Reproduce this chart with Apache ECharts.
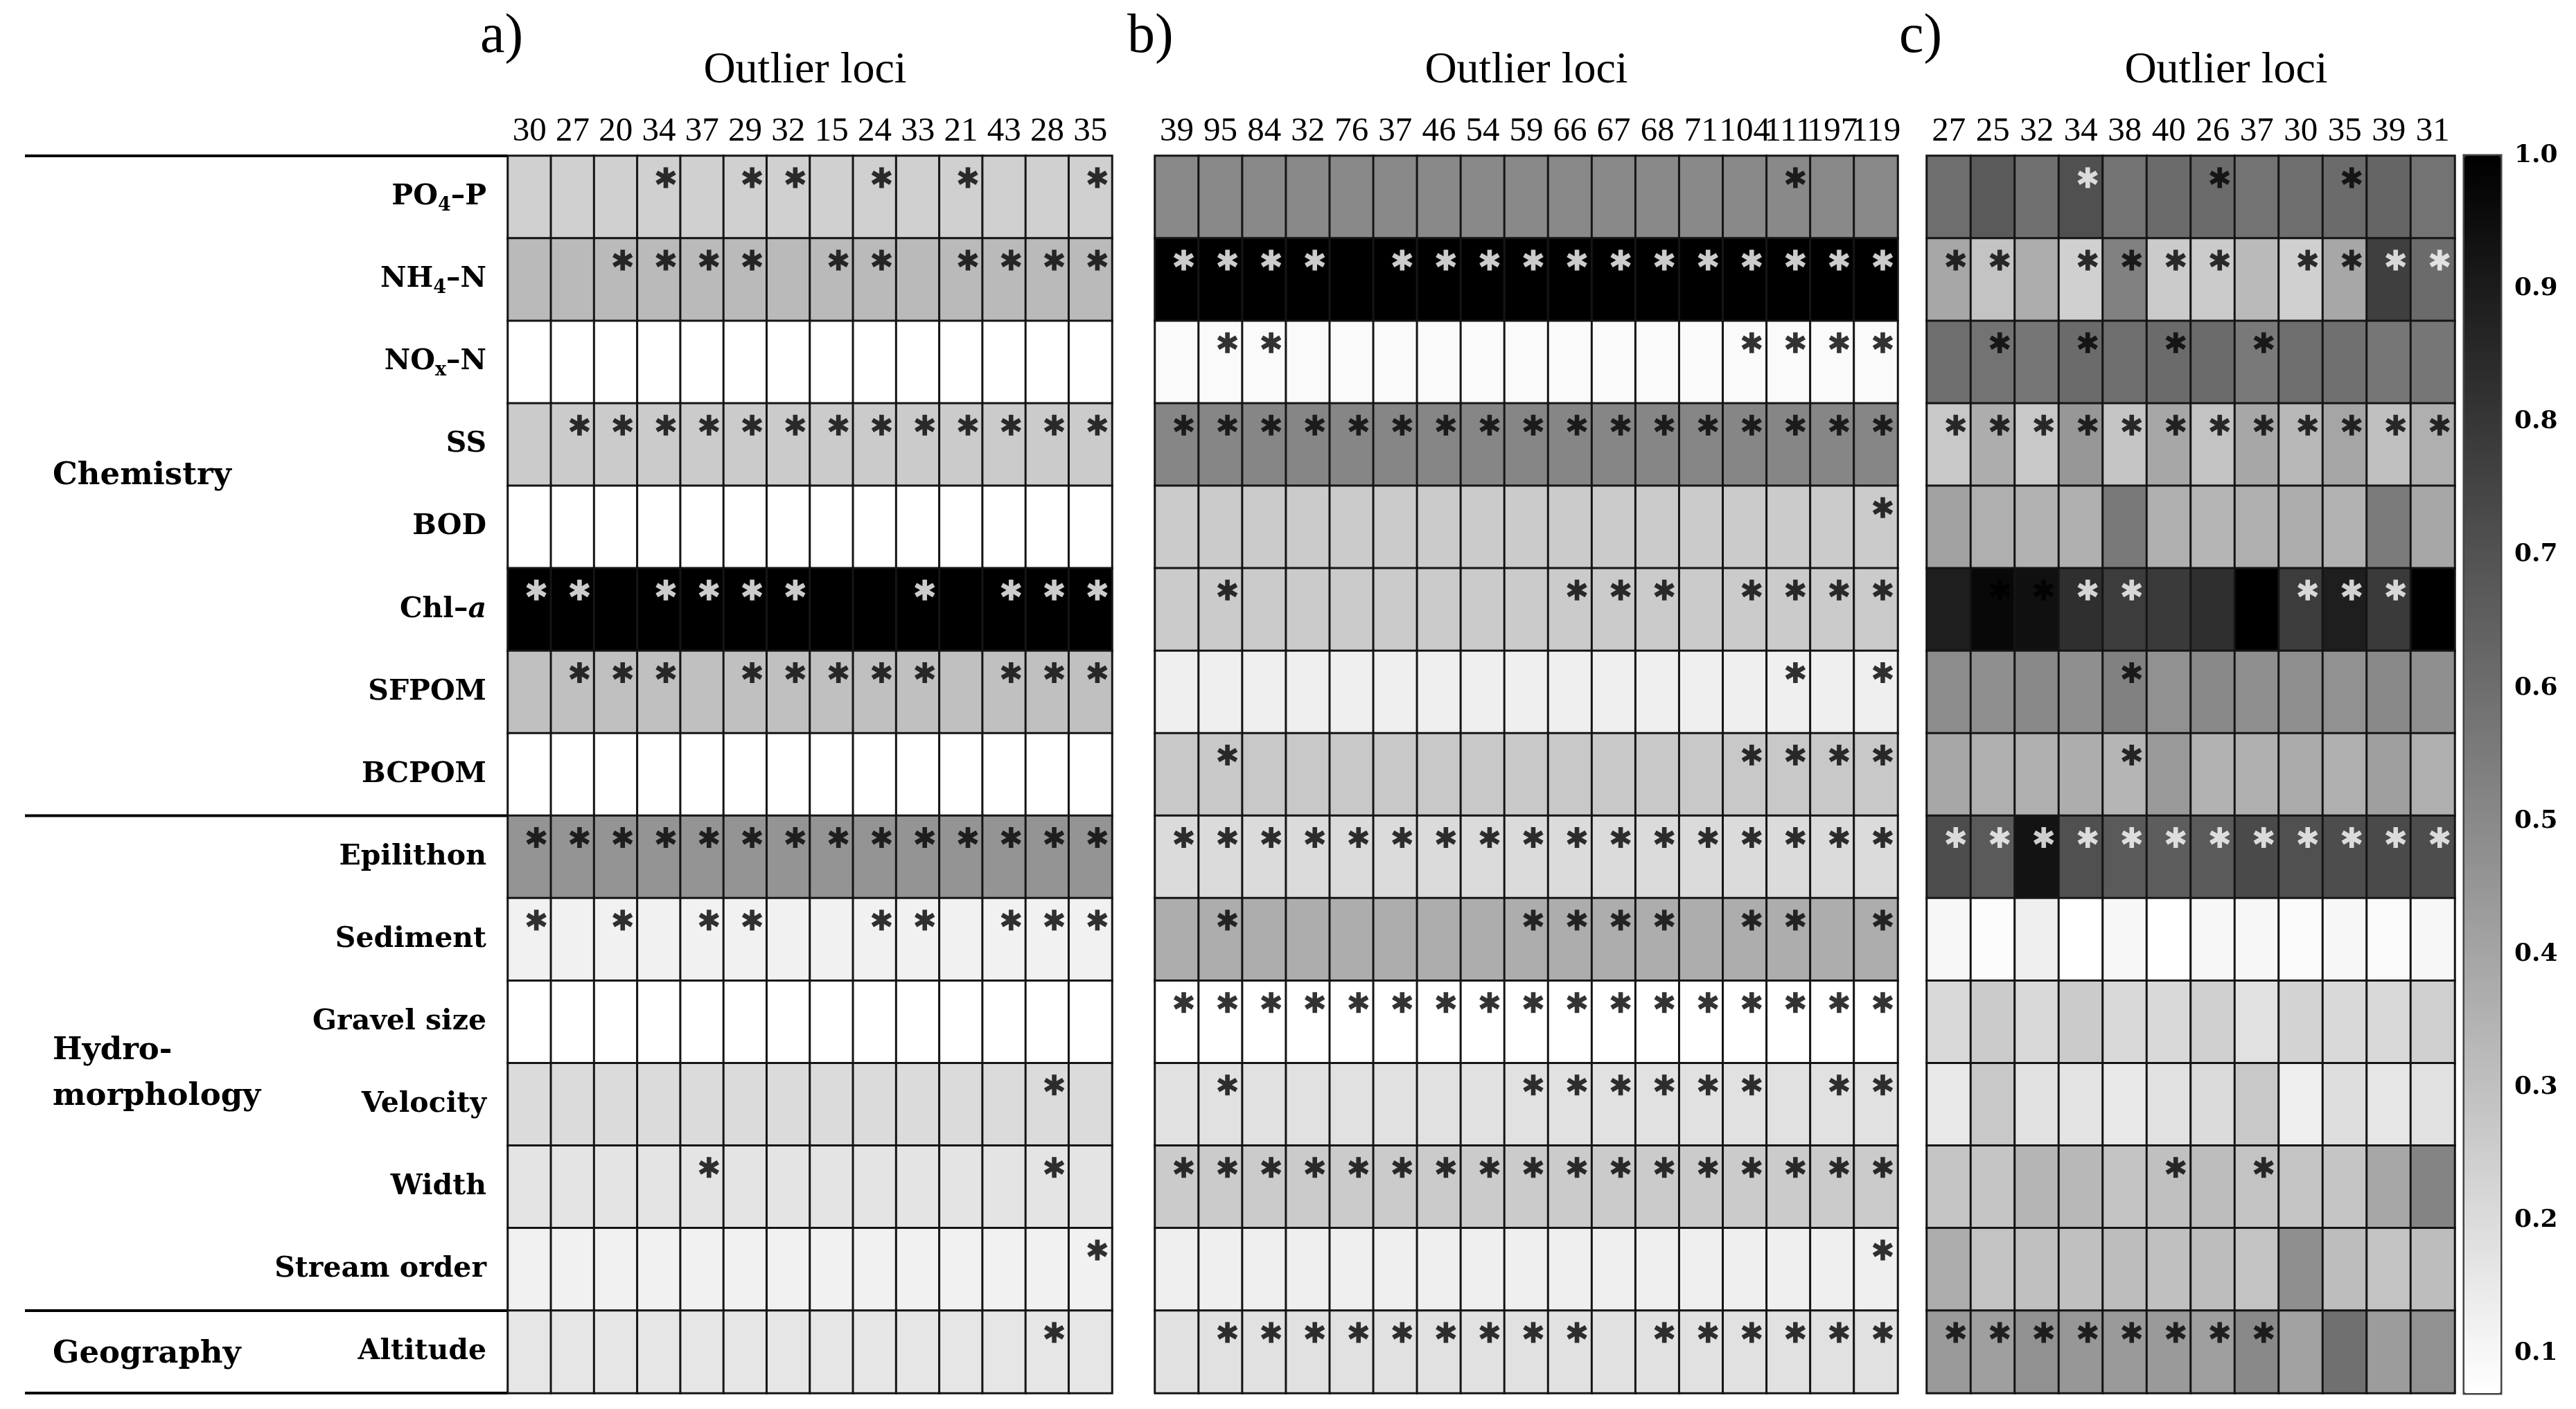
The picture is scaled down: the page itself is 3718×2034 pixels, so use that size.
<!DOCTYPE html>
<html>
<head>
<meta charset="utf-8">
<script src="https://cdn.jsdelivr.net/npm/echarts@6/dist/echarts.min.js"></script>
<style>
  html, body { margin: 0; padding: 0; background: #fff; }
  #chart { width: 3718px; height: 2034px; }
</style>
</head>
<body>
<div id="chart"></div>
<script>
// rows (environmental variables), top to bottom
const rowNames = ['PO4–P', 'NH4–N', 'NOx–N', 'SS', 'BOD', 'Chl–a', 'SFPOM', 'BCPOM',
  'Epilithon', 'Sediment', 'Gravel size', 'Velocity', 'Width', 'Stream order', 'Altitude']
const groups = [
  { name: 'Chemistry', from: 0, to: 7 },
  { name: 'Hydro-\nmorphology', from: 8, to: 13 },
  { name: 'Geography', from: 14, to: 14 }
]

// outlier loci (columns) of the three panels
const lociA = ['30', '27', '20', '34', '37', '29', '32', '15', '24', '33', '21', '43', '28', '35']
const lociB = ['39', '95', '84', '32', '76', '37', '46', '54', '59', '66', '67', '68', '71', '104', '111', '197', '119']
const lociC = ['27', '25', '32', '34', '38', '40', '26', '37', '30', '35', '39', '31']

// panels a) and b): every locus has the same value in a row
const valuesA = [0.24, 0.32, 0.07, 0.26, 0.07, 1.00, 0.30, 0.07, 0.46, 0.12, 0.07, 0.20, 0.17, 0.12, 0.16]
const valuesB = [0.50, 1.00, 0.09, 0.51, 0.26, 0.26, 0.13, 0.27, 0.20, 0.37, 0.07, 0.18, 0.26, 0.13, 0.18]

// panel c): one value per cell
const valuesC = [
  [0.60, 0.67, 0.59, 0.71, 0.58, 0.61, 0.61, 0.58, 0.60, 0.61, 0.63, 0.58],
  [0.39, 0.29, 0.37, 0.24, 0.53, 0.26, 0.26, 0.32, 0.24, 0.39, 0.77, 0.61],
  [0.60, 0.58, 0.57, 0.61, 0.60, 0.61, 0.61, 0.56, 0.60, 0.59, 0.57, 0.57],
  [0.27, 0.37, 0.27, 0.45, 0.28, 0.39, 0.29, 0.39, 0.33, 0.40, 0.30, 0.36],
  [0.41, 0.36, 0.35, 0.36, 0.56, 0.36, 0.34, 0.36, 0.37, 0.35, 0.55, 0.39],
  [0.89, 0.97, 0.94, 0.83, 0.78, 0.79, 0.83, 1.00, 0.78, 0.89, 0.79, 1.00],
  [0.49, 0.48, 0.50, 0.48, 0.53, 0.47, 0.50, 0.48, 0.48, 0.47, 0.50, 0.48],
  [0.39, 0.36, 0.36, 0.37, 0.34, 0.44, 0.35, 0.36, 0.38, 0.36, 0.42, 0.36],
  [0.72, 0.67, 0.93, 0.71, 0.67, 0.66, 0.67, 0.73, 0.71, 0.72, 0.73, 0.72],
  [0.10, 0.08, 0.13, 0.07, 0.10, 0.07, 0.10, 0.10, 0.09, 0.10, 0.09, 0.10],
  [0.21, 0.26, 0.21, 0.26, 0.21, 0.21, 0.24, 0.18, 0.23, 0.21, 0.21, 0.24],
  [0.15, 0.27, 0.18, 0.17, 0.15, 0.18, 0.20, 0.27, 0.13, 0.19, 0.16, 0.18],
  [0.28, 0.28, 0.34, 0.33, 0.29, 0.30, 0.31, 0.29, 0.28, 0.28, 0.39, 0.52],
  [0.37, 0.29, 0.30, 0.30, 0.31, 0.30, 0.31, 0.29, 0.48, 0.31, 0.29, 0.31],
  [0.44, 0.42, 0.47, 0.45, 0.44, 0.44, 0.42, 0.50, 0.41, 0.59, 0.43, 0.47]
]

// significance asterisks: k = black, w = white, . = none
const starsA = [
  '...k.kk.k.k..k', '..kkkk.kk.kkkk', '..............', '.kkkkkkkkkkkkk', '..............',
  'ww.wwww..w.www', '.kkk.kkkkk.kkk', '..............', 'kkkkkkkkkkkkkk', 'k.k.kk..kk.kkk',
  '..............', '............k.', '....k.......k.', '.............k', '............k.'
]
const starsB = [
  '..............k..', 'wwww.wwwwwwwwwwww', '.kk..........kkkk', 'kkkkkkkkkkkkkkkkk', '................k',
  '.k.......kkk.kkkk', '..............k.k', '.k...........kkkk', 'kkkkkkkkkkkkkkkkk', '.k......kkkk.kk.k',
  'kkkkkkkkkkkkkkkkk', '.k......kkkkkk.kk', 'kkkkkkkkkkkkkkkkk', '................k', '.kkkkkkkkk.kkkkkk'
]
const starsC = [
  '...w..k..k..', 'kk.kkkk.kkww', '.k.k.k.k....', 'kkkkkkkkkkkk', '............',
  '.kkww..kwwwk', '....k.......', '....k.......', 'wwwwwwwwwwww', '............',
  '............', '............', '.....k.k....', '............', 'kkkkkkkk....'
]

const scaleMin = 0.07
const scaleMax = 1.0
const colorbarTicks = [0.1, 0.2, 0.3, 0.4, 0.5, 0.6, 0.7, 0.8, 0.9, 1.0]

// ---------------------------------------------------------------
const SERIF = '"Liberation Serif", "Times New Roman", Tinos, serif'
const LABEL_FONT = '"DejaVu Serif"'
const ASTERISK = 'path://M-22 100 L22 100 L22 -100 L-22 -100 Z M76 69 L98 31 L-76 -69 L-98 -31 Z M-98 31 L-76 69 L98 -31 L76 -69 Z'

const gridTop = 225
const gridHeight = 1786
const rowH = gridHeight / rowNames.length

const heatData = (valueAt, ncol) => {
  const out = []
  rowNames.forEach((_, r) => {
    for (let c = 0; c < ncol; c++) out.push([c, r, valueAt(r, c)])
  })
  return out
}

const starData = (marks) => {
  const out = []
  marks.forEach((row, r) => {
    row.split('').forEach((m, c) => {
      if (m !== '.') out.push({ value: [c, r], itemStyle: { color: m === 'w' ? '#ffffff' : '#000000' } })
    })
  })
  return out
}

const panels = [
  { tag: 'a)', loci: lociA, left: 733, width: 872, titleX: 1162, data: heatData((r) => valuesA[r], lociA.length), stars: starData(starsA) },
  { tag: 'b)', loci: lociB, left: 1667, width: 1072, titleX: 2203, data: heatData((r) => valuesB[r], lociB.length), stars: starData(starsB) },
  { tag: 'c)', loci: lociC, left: 2781, width: 762, titleX: 3213, data: heatData((r, c) => valuesC[r][c], lociC.length), stars: starData(starsC) }
]
const bar = { left: 3557, width: 52 }

// row labels with sub-/italic parts
const richLabel = {
  'PO4–P': 'PO{sub|4}–P',
  'NH4–N': 'NH{sub|4}–N',
  'NOx–N': 'NO{sub|x}–N',
  'Chl–a': 'Chl–{it|a}'
}

const grids = panels.map(p => ({ left: p.left, top: gridTop, width: p.width, height: gridHeight }))
grids.push({
  left: bar.left, top: gridTop, width: bar.width, height: gridHeight,
  show: true, borderColor: '#444', borderWidth: 5, backgroundColor: 'transparent'
})

const xAxes = panels.map((p, i) => ({
  type: 'category',
  gridIndex: i,
  data: p.loci,
  position: 'top',
  axisLine: { show: false },
  axisTick: { show: false },
  splitLine: { show: false },
  axisLabel: { interval: 0, margin: 10, fontFamily: SERIF, fontSize: 49, color: '#000' }
}))
xAxes.push({ type: 'category', gridIndex: 3, data: [''], show: false })

const yAxes = panels.map((p, i) => ({
  type: 'category',
  gridIndex: i,
  data: rowNames,
  inverse: true,
  axisLine: { show: false },
  axisTick: { show: false },
  splitLine: { show: false },
  axisLabel: {
    show: i === 0,
    interval: 0,
    margin: 31,
    fontFamily: LABEL_FONT,
    fontWeight: 'bold',
    fontSize: 41,
    color: '#000',
    formatter: (v) => richLabel[v] || v,
    rich: {
      sub: { fontFamily: LABEL_FONT, fontWeight: 'bold', fontSize: 27, padding: [24, 0, 0, 0], color: '#000' },
      it: { fontFamily: LABEL_FONT, fontWeight: 'bold', fontStyle: 'italic', fontSize: 41, color: '#000' }
    }
  }
}))
yAxes.push({
  type: 'value',
  gridIndex: 3,
  position: 'right',
  min: scaleMin,
  max: scaleMax,
  axisLine: { show: false },
  splitLine: { show: false },
  axisTick: { show: true, inside: true, length: 8, customValues: colorbarTicks, lineStyle: { color: '#333', width: 3 } },
  axisLabel: {
    customValues: colorbarTicks,
    margin: 20,
    fontFamily: LABEL_FONT,
    fontWeight: 'bold',
    fontSize: 36,
    color: '#000',
    formatter: (v) => v.toFixed(1)
  }
})

const series = panels.map((p, i) => ({
  type: 'heatmap',
  xAxisIndex: i,
  yAxisIndex: i,
  data: p.data,
  silent: true,
  emphasis: { disabled: true },
  itemStyle: { borderColor: '#151515', borderWidth: 3 }
}))
panels.forEach((p, i) => series.push({
  type: 'scatter',
  xAxisIndex: i,
  yAxisIndex: i,
  data: p.stars,
  symbol: ASTERISK,
  symbolKeepAspect: true,
  symbolSize: 30,
  symbolOffset: [10, -28],
  silent: true,
  z: 5
}))

// free text and the separator lines of the label column
const graphic = []
panels.forEach(p => {
  graphic.push({
    type: 'text', x: p.left - 40, y: 54,
    style: { text: p.tag, font: `80px ${SERIF}`, fill: '#000', verticalAlign: 'middle' }
  })
  graphic.push({
    type: 'text', x: p.titleX, y: 102,
    style: { text: 'Outlier loci', font: `64px ${SERIF}`, fill: '#000', align: 'center', verticalAlign: 'middle' }
  })
})
const lineRows = [0, 8, 14, 15]
lineRows.forEach(r => {
  const y = gridTop + r * rowH
  graphic.push({
    type: 'line', shape: { x1: 36, y1: y, x2: panels[0].left, y2: y },
    style: { stroke: '#000', lineWidth: 4 }
  })
})
groups.forEach(g => {
  const yc = gridTop + ((g.from + g.to + 1) / 2) * rowH
  graphic.push({
    type: 'text', x: 76, y: g.name === 'Chemistry' ? yc - 14 : (g.name === 'Geography' ? yc + 4 : yc + 16),
    style: {
      text: g.name, font: `bold 45px ${LABEL_FONT}`, fill: '#000',
      verticalAlign: 'middle', lineHeight: 66
    }
  })
})

const chart = echarts.init(document.getElementById('chart'), null, { renderer: 'canvas' })
chart.setOption({
  animation: false,
  backgroundColor: '#fff',
  grid: grids,
  xAxis: xAxes,
  yAxis: yAxes,
  visualMap: {
    type: 'continuous',
    seriesIndex: [0, 1, 2],
    min: scaleMin,
    max: scaleMax,
    calculable: false,
    orient: 'vertical',
    left: bar.left,
    top: gridTop,
    itemWidth: bar.width,
    itemHeight: gridHeight,
    padding: 0,
    text: null,
    inRange: { color: ['#ffffff', '#000000'] }
  },
  series: series,
  graphic: graphic
})
</script>
</body>
</html>
